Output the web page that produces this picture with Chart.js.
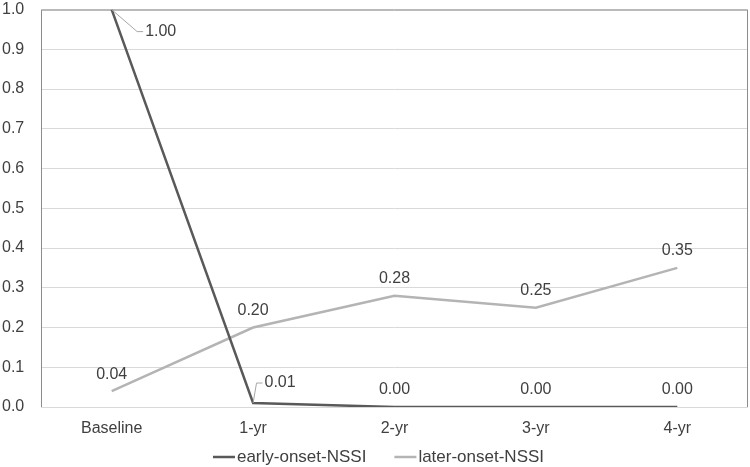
<!DOCTYPE html>
<html>
<head>
<meta charset="utf-8">
<script src="https://cdn.jsdelivr.net/npm/chart.js@4/dist/chart.umd.min.js"></script>
<style>
	html, body { margin: 0; padding: 0; background: #ffffff; }
	#wrap { width: 750px; height: 467px; }
</style>
</head>
<body>
<div id="wrap"><canvas id="myChart" width="750" height="467"></canvas></div>
<script>
// chart values
const categories = ['Baseline', '1-yr', '2-yr', '3-yr', '4-yr'];
const earlyOnset = [1.00, 0.01, 0.00, 0.00, 0.00];
const laterOnset = [0.04, 0.20, 0.28, 0.25, 0.35];
const yTicks = [0.0, 0.1, 0.2, 0.3, 0.4, 0.5, 0.6, 0.7, 0.8, 0.9, 1.0];

const FONT = 'Liberation Sans, Arial, sans-serif';
const TEXT = '#404040';

// label placement: [dx, dy, leader?] relative to point
const labelPlace = {
	0: [[49, 22, true], [27, -20, true], [0, -17], [0, -17], [0, -17]],
	1: [[0, -17], [0, -17], [0, -17], [0, -17], [0, -17]]
};

const valueLabels = {
	id: 'valueLabels',
	afterDatasetsDraw(chart) {
		const { ctx } = chart;
		ctx.save();
		ctx.font = '16px ' + FONT;
		ctx.textAlign = 'center';
		ctx.textBaseline = 'middle';
		chart.data.datasets.forEach((ds, di) => {
			const meta = chart.getDatasetMeta(di);
			meta.data.forEach((pt, i) => {
				const p = labelPlace[di][i];
				const lx = pt.x + p[0];
				const ly = pt.y + p[1];
				if (p[2]) {
					const tw = ctx.measureText(ds.data[i].toFixed(2)).width;
					const ex = lx - tw / 2 - 2;
					ctx.strokeStyle = '#a6a6a6';
					ctx.lineWidth = 1;
					ctx.beginPath();
					ctx.moveTo(pt.x, pt.y);
					ctx.lineTo(ex - 6, ly);
					ctx.lineTo(ex, ly);
					ctx.stroke();
				}
				ctx.fillStyle = TEXT;
				ctx.fillText(ds.data[i].toFixed(2), lx, ly);
			});
		});
		ctx.restore();
	}
};

const plotBorder = {
	id: 'plotBorder',
	beforeDatasetsDraw(chart) {
		const { ctx, chartArea: a } = chart;
		ctx.save();
		ctx.strokeStyle = '#d9d9d9';
		ctx.lineWidth = 1;
		ctx.beginPath();
		ctx.moveTo(a.left, a.bottom + 0.5);
		ctx.lineTo(a.right, a.bottom + 0.5);
		ctx.stroke();
		ctx.strokeStyle = '#8c8c8c';
		ctx.beginPath();
		ctx.moveTo(a.left + 0.5, a.bottom);
		ctx.lineTo(a.left + 0.5, a.top + 0.5);
		ctx.lineTo(a.right - 0.5, a.top + 0.5);
		ctx.lineTo(a.right - 0.5, a.bottom);
		ctx.stroke();
		ctx.restore();
	}
};

// legend under the axis, drawn from the dataset labels and colours
const bottomLegend = {
	id: 'bottomLegend',
	afterDraw(chart) {
		const { ctx } = chart;
		const lineLen = 22, gap = 2, itemGap = 28, y = 457;
		ctx.save();
		ctx.font = '17px ' + FONT;
		ctx.textBaseline = 'middle';
		const items = chart.data.datasets.map(ds => ({
			text: ds.label, color: ds.borderColor, w: ctx.measureText(ds.label).width
		}));
		let total = 0;
		items.forEach((it, i) => { total += lineLen + gap + it.w + (i ? itemGap : 0); });
		let x = 378.5 - total / 2;
		items.forEach((it) => {
			ctx.strokeStyle = it.color;
			ctx.lineWidth = 2.5;
			ctx.beginPath();
			ctx.moveTo(x, y);
			ctx.lineTo(x + lineLen, y);
			ctx.stroke();
			ctx.fillStyle = TEXT;
			ctx.textAlign = 'left';
			ctx.fillText(it.text, x + lineLen + gap, y);
			x += lineLen + gap + it.w + itemGap;
		});
		ctx.restore();
	}
};

const ctx = document.getElementById('myChart').getContext('2d');

const myChart = new Chart(ctx, {
	type: 'line',
	data: {
		labels: categories,
		datasets: [{
			label: 'early-onset-NSSI',
			data: earlyOnset,
			borderColor: '#595959',
			backgroundColor: '#595959',
			borderWidth: 2.5,
			pointRadius: 0,
			tension: 0
		}, {
			label: 'later-onset-NSSI',
			data: laterOnset,
			borderColor: '#b4b4b4',
			backgroundColor: '#b4b4b4',
			borderWidth: 2.5,
			pointRadius: 0,
			tension: 0
		}]
	},
	options: {
		responsive: false,
		animation: false,
		layout: { padding: { top: 0, right: 2, left: 2, bottom: 20 } },
		scales: {
			x: {
				offset: true,
				grid: { display: false },
				border: { display: false },
				ticks: { color: TEXT, font: { family: FONT, size: 16 }, padding: 4 },
				afterFit: (scale) => { scale.height = 40; }
			},
			y: {
				min: 0,
				max: 1,
				afterBuildTicks: (scale) => { scale.ticks = yTicks.map(v => ({ value: v })); },
				grid: { color: '#d9d9d9', drawTicks: false },
				border: { display: false },
				ticks: {
					color: TEXT,
					font: { family: FONT, size: 16 },
					padding: 0,
					crossAlign: 'far',
					callback: (v) => v.toFixed(1)
				},
				afterFit: (scale) => { scale.width = 39; }
			}
		},
		plugins: {
			legend: { display: false },
			tooltip: { enabled: false }
		}
	},
	plugins: [plotBorder, valueLabels, bottomLegend]
});
</script>
</body>
</html>
